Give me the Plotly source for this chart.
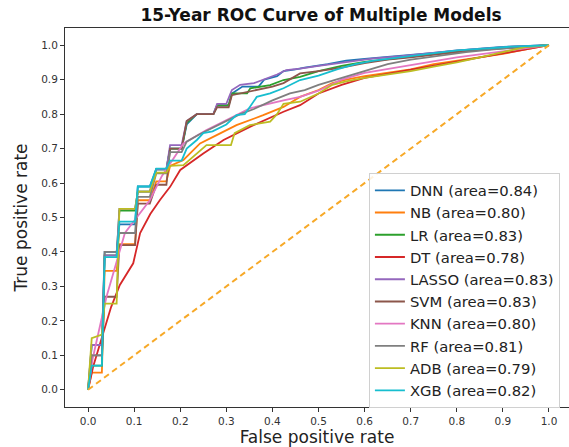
import plotly.graph_objects as go

models = ["DNN", "NB", "LR", "DT", "LASSO", "SVM", "KNN", "RF", "ADB", "XGB"]
areas = [0.84, 0.80, 0.83, 0.78, 0.83, 0.83, 0.80, 0.81, 0.79, 0.82]
colors = ["#1f77b4", "#ff7f0e", "#2ca02c", "#d62728", "#9467bd",
          "#8c564b", "#e377c2", "#7f7f7f", "#bcbd22", "#17becf"]

dnn_fpr = [0, 0.008, 0.030, 0.036, 0.062, 0.068, 0.102, 0.108, 0.134, 0.148, 0.170, 0.178, 0.203, 0.214, 0.236, 0.272, 0.280, 0.305, 0.312, 0.335, 0.370, 0.382, 0.410, 0.424, 0.450, 0.470, 0.520, 0.560, 0.600, 0.650, 0.700, 0.750, 0.800, 0.850, 0.900, 0.950, 1.0]
dnn_tpr = [0, 0.130, 0.130, 0.400, 0.400, 0.480, 0.480, 0.590, 0.590, 0.640, 0.640, 0.700, 0.700, 0.770, 0.800, 0.800, 0.825, 0.825, 0.860, 0.880, 0.880, 0.900, 0.910, 0.925, 0.930, 0.935, 0.945, 0.955, 0.960, 0.965, 0.972, 0.978, 0.985, 0.990, 0.995, 0.998, 1.0]

nb_fpr = [0, 0.008, 0.030, 0.036, 0.062, 0.068, 0.102, 0.108, 0.134, 0.148, 0.170, 0.178, 0.207, 0.243, 0.279, 0.322, 0.380, 0.424, 0.460, 0.500, 0.530, 0.560, 0.600, 0.650, 0.700, 0.750, 0.800, 0.850, 0.900, 0.950, 1.0]
nb_tpr = [0, 0.050, 0.050, 0.345, 0.345, 0.423, 0.423, 0.550, 0.550, 0.605, 0.605, 0.650, 0.667, 0.715, 0.739, 0.768, 0.797, 0.821, 0.850, 0.870, 0.890, 0.900, 0.910, 0.920, 0.930, 0.945, 0.955, 0.965, 0.975, 0.988, 1.0]

lr_fpr = [0, 0.008, 0.030, 0.036, 0.062, 0.068, 0.102, 0.108, 0.134, 0.148, 0.170, 0.178, 0.203, 0.214, 0.236, 0.272, 0.280, 0.305, 0.312, 0.345, 0.352, 0.395, 0.424, 0.460, 0.500, 0.550, 0.600, 0.650, 0.700, 0.760, 0.820, 0.880, 0.940, 1.0]
lr_tpr = [0, 0.070, 0.070, 0.390, 0.390, 0.520, 0.520, 0.575, 0.575, 0.640, 0.640, 0.700, 0.700, 0.775, 0.800, 0.800, 0.826, 0.826, 0.860, 0.860, 0.875, 0.884, 0.899, 0.908, 0.925, 0.940, 0.952, 0.960, 0.968, 0.976, 0.984, 0.990, 0.996, 1.0]

dt_fpr = [0, 0.011, 0.033, 0.050, 0.069, 0.098, 0.113, 0.135, 0.156, 0.178, 0.200, 0.250, 0.294, 0.351, 0.424, 0.460, 0.500, 0.550, 0.600, 1.0]
dt_tpr = [0, 0.067, 0.165, 0.240, 0.304, 0.367, 0.455, 0.510, 0.551, 0.589, 0.638, 0.686, 0.725, 0.763, 0.807, 0.826, 0.860, 0.885, 0.905, 1.0]

lasso_fpr = [0, 0.008, 0.030, 0.036, 0.062, 0.068, 0.102, 0.108, 0.134, 0.148, 0.170, 0.178, 0.203, 0.214, 0.236, 0.272, 0.280, 0.300, 0.312, 0.330, 0.360, 0.380, 0.410, 0.430, 0.460, 0.500, 0.540, 0.580, 0.620, 0.680, 0.740, 0.800, 0.860, 0.920, 1.0]
lasso_tpr = [0, 0.130, 0.130, 0.390, 0.390, 0.525, 0.525, 0.575, 0.575, 0.640, 0.640, 0.710, 0.710, 0.780, 0.800, 0.800, 0.830, 0.830, 0.870, 0.885, 0.890, 0.900, 0.915, 0.928, 0.932, 0.940, 0.948, 0.955, 0.962, 0.968, 0.976, 0.985, 0.990, 0.996, 1.0]

svm_fpr = [0, 0.008, 0.030, 0.036, 0.062, 0.068, 0.102, 0.108, 0.134, 0.148, 0.170, 0.178, 0.203, 0.214, 0.236, 0.272, 0.280, 0.305, 0.312, 0.350, 0.400, 0.424, 0.460, 0.500, 0.550, 0.600, 0.650, 0.700, 0.760, 0.820, 0.880, 0.940, 1.0]
svm_tpr = [0, 0.100, 0.100, 0.270, 0.270, 0.420, 0.420, 0.540, 0.540, 0.595, 0.595, 0.700, 0.700, 0.780, 0.800, 0.800, 0.820, 0.820, 0.855, 0.865, 0.880, 0.890, 0.918, 0.925, 0.935, 0.948, 0.958, 0.965, 0.975, 0.983, 0.990, 0.996, 1.0]

knn_fpr = [0, 0.010, 0.040, 0.080, 0.134, 0.160, 0.207, 0.257, 0.293, 0.351, 0.424, 0.460, 0.500, 0.550, 0.600, 0.650, 0.700, 0.800, 0.900, 1.0]
knn_tpr = [0, 0.090, 0.270, 0.455, 0.550, 0.620, 0.715, 0.754, 0.778, 0.817, 0.840, 0.850, 0.868, 0.900, 0.920, 0.930, 0.942, 0.965, 0.982, 1.0]

rf_fpr = [0, 0.008, 0.030, 0.036, 0.062, 0.068, 0.102, 0.108, 0.134, 0.148, 0.170, 0.178, 0.203, 0.214, 0.240, 0.270, 0.300, 0.330, 0.360, 0.400, 0.438, 0.470, 0.500, 0.550, 0.600, 0.650, 0.700, 0.760, 0.820, 0.880, 0.940, 1.0]
rf_tpr = [0, 0.100, 0.100, 0.400, 0.400, 0.455, 0.455, 0.560, 0.560, 0.628, 0.628, 0.690, 0.690, 0.720, 0.740, 0.760, 0.780, 0.800, 0.815, 0.840, 0.860, 0.870, 0.885, 0.905, 0.925, 0.945, 0.958, 0.970, 0.980, 0.988, 0.995, 1.0]

adb_fpr = [0, 0.008, 0.030, 0.036, 0.062, 0.068, 0.102, 0.108, 0.134, 0.148, 0.170, 0.178, 0.207, 0.257, 0.310, 0.318, 0.351, 0.395, 0.410, 0.424, 0.460, 0.500, 0.530, 0.560, 0.600, 0.650, 0.700, 0.750, 0.800, 0.850, 0.900, 0.950, 1.0]
adb_tpr = [0, 0.150, 0.160, 0.250, 0.250, 0.525, 0.525, 0.575, 0.575, 0.630, 0.630, 0.650, 0.652, 0.710, 0.710, 0.745, 0.768, 0.778, 0.800, 0.830, 0.836, 0.860, 0.885, 0.895, 0.905, 0.915, 0.925, 0.938, 0.950, 0.965, 0.980, 0.995, 1.0]

xgb_fpr = [0, 0.008, 0.030, 0.036, 0.062, 0.068, 0.102, 0.108, 0.134, 0.148, 0.170, 0.178, 0.203, 0.214, 0.236, 0.250, 0.270, 0.300, 0.322, 0.340, 0.351, 0.366, 0.395, 0.424, 0.460, 0.500, 0.540, 0.580, 0.620, 0.680, 0.740, 0.800, 0.860, 0.920, 1.0]
xgb_tpr = [0, 0.070, 0.070, 0.385, 0.385, 0.488, 0.488, 0.590, 0.590, 0.642, 0.642, 0.665, 0.665, 0.700, 0.725, 0.745, 0.750, 0.770, 0.797, 0.800, 0.821, 0.850, 0.860, 0.875, 0.899, 0.912, 0.930, 0.945, 0.955, 0.965, 0.975, 0.985, 0.990, 0.996, 1.0]

curves = [(dnn_fpr, dnn_tpr), (nb_fpr, nb_tpr), (lr_fpr, lr_tpr), (dt_fpr, dt_tpr),
          (lasso_fpr, lasso_tpr), (svm_fpr, svm_tpr), (knn_fpr, knn_tpr),
          (rf_fpr, rf_tpr), (adb_fpr, adb_tpr), (xgb_fpr, xgb_tpr)]

diag = [0, 1]
ticks = [i / 10 for i in range(11)]

FONT = "DejaVu Sans"
fig = go.Figure()
for name, area, col, (fx, ty) in zip(models, areas, colors, curves):
    fig.add_trace(go.Scatter(x=fx, y=ty, mode="lines",
                             name=f"{name} (area={area:.2f})",
                             line=dict(color=col, width=1.8)))
fig.add_trace(go.Scatter(x=diag, y=diag, mode="lines", showlegend=False,
                         line=dict(color="#f7a928", width=2, dash="6px,4px")))

axis_common = dict(showgrid=False, zeroline=False, showline=True,
                   linecolor="#333333", linewidth=1, ticks="outside",
                   ticklen=4, tickwidth=1, tickcolor="#333333",
                   tickvals=ticks, tickformat=".1f", automargin=False,
                   tickfont=dict(family=FONT, size=10.5, color="#333333"))

fig.update_layout(
    width=569, height=447,
    margin=dict(l=65, r=0, t=28, b=40),
    paper_bgcolor="white", plot_bgcolor="white",
    font=dict(family=FONT, color="#222222"),
    title=dict(text="<b>15-Year ROC Curve of Multiple Models</b>",
               font=dict(family=FONT, size=17, color="#111111"),
               x=321 / 569, xref="container", xanchor="center",
               y=1 - 15 / 447, yref="container", yanchor="middle"),
    xaxis=dict(range=[-0.05, 1.0434], mirror=True,
               title=dict(text="False positive rate", standoff=3,
                          font=dict(family=FONT, size=17, color="#222222")),
               **axis_common),
    yaxis=dict(range=[-0.05, 1.05], mirror=False,
               title=dict(text="True positive rate", standoff=9,
                          font=dict(family=FONT, size=17, color="#222222")),
               **axis_common),
    legend=dict(x=0.603, y=0.617, xanchor="left", yanchor="top",
                bgcolor="rgba(255,255,255,0.85)", bordercolor="#d0d0d0",
                borderwidth=1, font=dict(family=FONT, size=14.8, color="#222222"),
                tracegroupgap=0),
)

fig.write_html("out.html", config={"displayModeBar": False},
               post_script="document.body.style.margin='0';document.body.style.overflow='hidden';")
